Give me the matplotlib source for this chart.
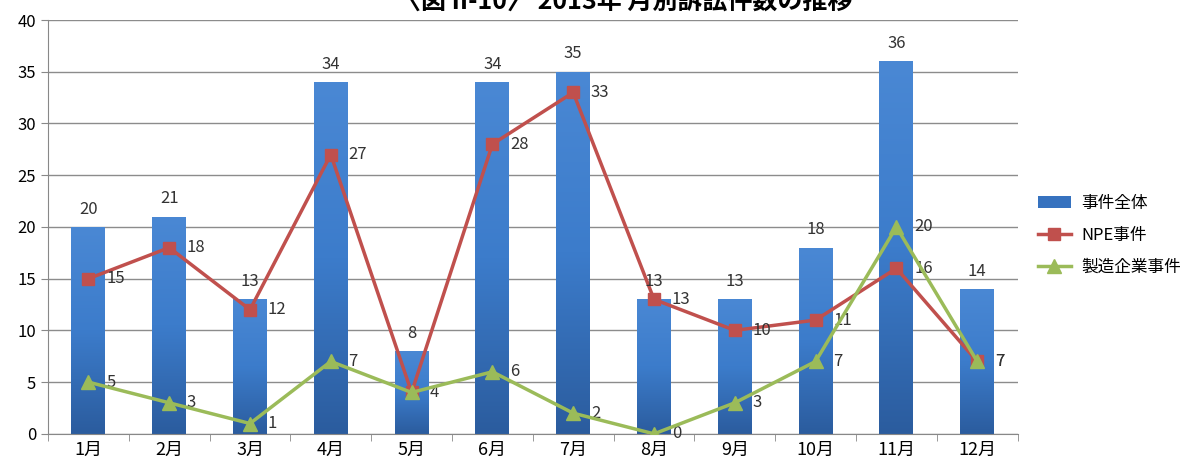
import matplotlib.pyplot as plt
import numpy as np
from matplotlib.colors import LinearSegmentedColormap

plt.rcParams['font.family'] = ['Noto Sans CJK JP', 'DejaVu Sans']

months = ['1月', '2月', '3月', '4月', '5月', '6月', '7月', '8月', '9月', '10月', '11月', '12月']
total = [20, 21, 13, 34, 8, 34, 35, 13, 13, 18, 36, 14]
npe = [15, 18, 12, 27, 4, 28, 33, 13, 10, 11, 16, 7]
manuf = [5, 3, 1, 7, 4, 6, 2, 0, 3, 7, 20, 7]

fig = plt.figure(figsize=(12, 4.66), dpi=100)
ax = fig.add_axes([0.04, 0.069, 0.808, 0.888])

x = np.arange(len(months))
bars = ax.bar(x, total, width=0.42, color='#3672bf', label='事件全体', zorder=2)

# gradient fill for bars (lighter top, darker bottom)
cmap = LinearSegmentedColormap.from_list('blu', ['#2b5c9e', '#3c7ccb', '#4a88d4'])
grad = np.linspace(0, 1, 256).reshape(-1, 1)
for b in bars:
    bx, by = b.get_x(), b.get_y()
    w, h = b.get_width(), b.get_height()
    im = ax.imshow(grad, cmap=cmap, aspect='auto', origin='lower',
                   extent=[bx, bx + w, by, by + h], zorder=2)
    im.set_clip_path(b)

l1, = ax.plot(x, npe, color='#c0504d', lw=2.5, marker='s', ms=9, label='NPE事件', zorder=3)
l2, = ax.plot(x, manuf, color='#9bbb59', lw=2.5, marker='^', ms=10, label='製造企業事件', zorder=4)

for xi, v in zip(x, total):
    ax.text(xi, v + 0.9, str(v), ha='center', va='bottom', fontsize=12, color='#333333')
for xi, v in zip(x, npe):
    ax.text(xi + 0.22, v, str(v), ha='left', va='center', fontsize=12, color='#333333')
for xi, v in zip(x, manuf):
    if xi == 4:
        continue
    ax.text(xi + 0.22, v, str(v), ha='left', va='center', fontsize=12, color='#333333')

ax.set_xlim(-0.5, 11.5)
ax.set_ylim(0, 40)
ax.set_yticks(range(0, 41, 5))
ax.set_xticks(x)
ax.set_xticklabels(months, fontsize=13)
ax.set_xticks(np.arange(-0.5, 12, 1), minor=True)
ax.tick_params(axis='x', which='major', length=0, pad=5)
ax.tick_params(axis='x', which='minor', length=5, color='#888888')
ax.tick_params(axis='y', length=5, color='#888888', labelsize=12)
ax.grid(axis='y', color='#8c8c8c', lw=1, zorder=0)
for s in ['top', 'right']:
    ax.spines[s].set_visible(False)
for s in ['left', 'bottom']:
    ax.spines[s].set_color('#888888')

fig.text(0.52, 0.995, '〈図 II-10〉 2013年 月別訴訟件数の推移', ha='center', va='center',
         fontsize=18, fontweight='bold')

ax.legend([bars, l1, l2], ['事件全体', 'NPE事件', '製造企業事件'],
          loc='center left', bbox_to_anchor=(1.0, 0.48), frameon=False, fontsize=12,
          handlelength=2.0, handletextpad=0.6, borderaxespad=0.8, labelspacing=0.9)

plt.savefig('out.png')
